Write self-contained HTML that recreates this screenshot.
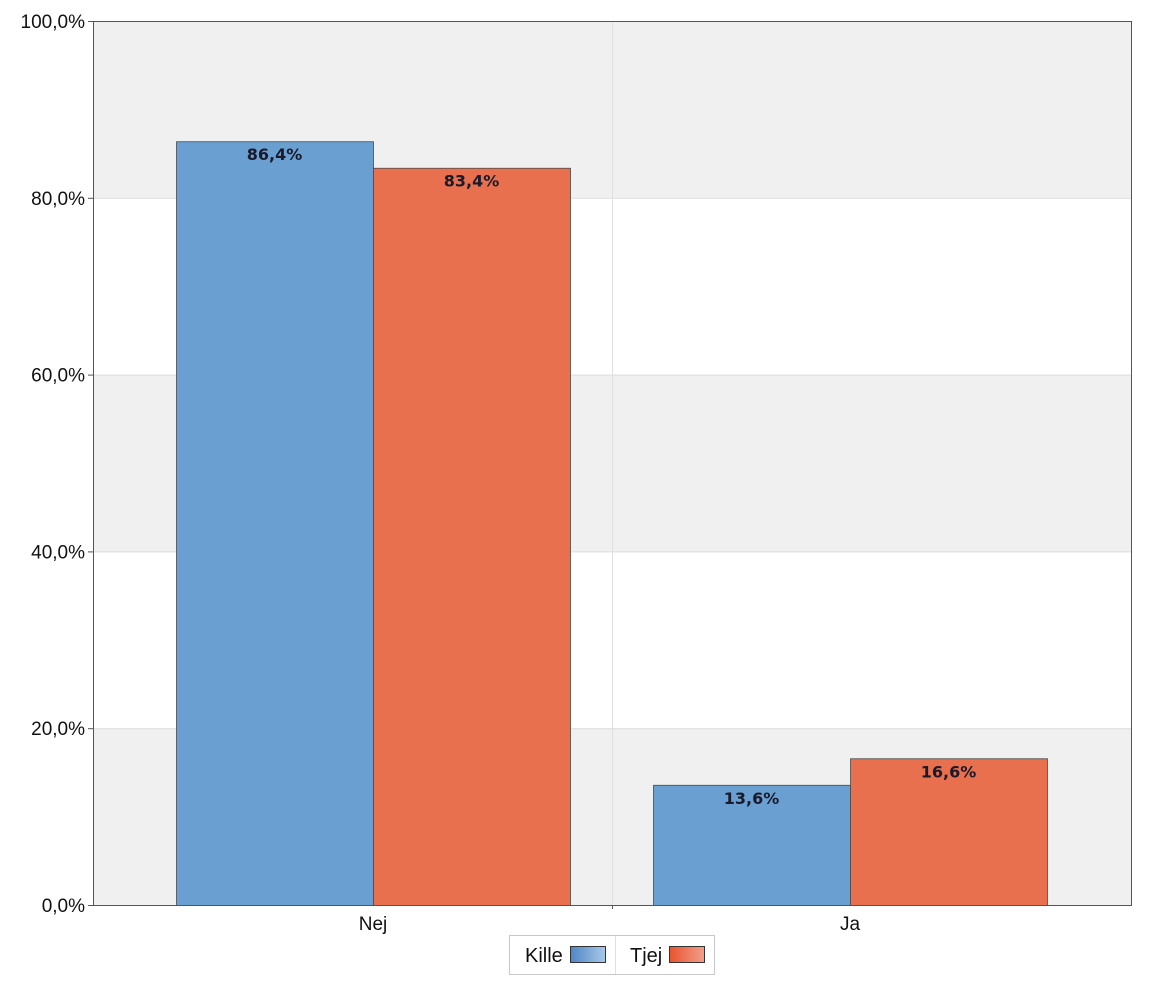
<!DOCTYPE html>
<html><head><meta charset="utf-8"><style>
body{margin:0;background:#fff;width:1152px;height:993px;overflow:hidden;font-family:"Liberation Sans",sans-serif}
</style></head><body>
<svg id="chart" width="1152" height="993" xmlns="http://www.w3.org/2000/svg">
<defs>
<linearGradient id="gb" x1="0" x2="1"><stop offset="0" stop-color="#4f86c6"/><stop offset="1" stop-color="#a9c8ea"/></linearGradient>
<linearGradient id="gr" x1="0" x2="1"><stop offset="0" stop-color="#e8532f"/><stop offset="1" stop-color="#f2a08a"/></linearGradient>
</defs>
<g id="bands"></g><g id="grid"></g><g id="bars"></g><g id="axes"></g>
<g>
<rect x="509.5" y="935.5" width="205" height="39" fill="#fff" stroke="#c8c8c8"/>
<line x1="615.5" y1="936" x2="615.5" y2="974" stroke="#e0e0e0"/>
<g>
<text x="525" y="962" font-size="20" fill="#111">Kille</text>
<rect x="570.5" y="946.5" width="35" height="16" fill="url(#gb)" stroke="#333"/></g>
<g>
<text x="630" y="962" font-size="20" fill="#111">Tjej</text>
<rect x="669.5" y="946.5" width="35" height="16" fill="url(#gr)" stroke="#333"/></g>
</g>
</svg>
<script>
const categories=["Nej","Ja"];
const kille=[86.4,13.6];
const tjej=[83.4,16.6];
const ticks=[0,20,40,60,80,100];
const tickLabels=["0,0%","20,0%","40,0%","60,0%","80,0%","100,0%"];
const NS="http://www.w3.org/2000/svg";
const L=93,R=1132,T=21,B=905;
const y=v=>B-(v/100)*(B-T);
const catCenter=[373,850];
const bw=197;
function mk(tag,attrs,parent,txt){const e=document.createElementNS(NS,tag);for(const k in attrs)e.setAttribute(k,attrs[k]);if(txt!==undefined)e.textContent=txt;document.getElementById(parent).appendChild(e);return e;}
for(let i=0;i<ticks.length-1;i++){
 const r=mk('rect',{x:L,y:y(ticks[i+1]),width:R-L,height:y(ticks[i])-y(ticks[i+1]),fill:i%2===0?'#f0f0f0':'#ffffff'},'bands');
 
 
}
ticks.forEach((t,i)=>{
 const g=mk('line',{x1:L,x2:R,y1:y(t)+0.5,y2:y(t)+0.5,stroke:'#dcdcdc'},'grid');
 
 
 mk('line',{x1:L-5,x2:L,y1:y(t)+0.5,y2:y(t)+0.5,stroke:'#555'},'axes');
 const tx=mk('text',{x:L-8,y:y(t)+7,'font-size':19,'text-anchor':'end',fill:'#111'},'axes',tickLabels[i]);
 
 
});
mk('line',{x1:612.5,x2:612.5,y1:T,y2:B,stroke:'#e0e0e0'},'grid');
const series=[{v:kille,fill:'#6a9fd2',name:'kille'},{v:tjej,fill:'#e8704f',name:'tjej'}];
categories.forEach((c,ci)=>{
 series.forEach((s,si)=>{
  const x=catCenter[ci]-bw+si*bw;
  const b=mk('rect',{x:x+0.5,y:y(s.v[ci])+0.5,width:bw,height:B-y(s.v[ci]),fill:s.fill,stroke:'#4a4a4a','stroke-width':0.8},'bars');
  
  
  const t=mk('text',{x:x+bw/2,y:y(s.v[ci])+19,'font-size':16,'font-weight':'bold','text-anchor':'middle',fill:'#1a1a2a','font-family':'DejaVu Sans, sans-serif'},'bars',s.v[ci].toFixed(1).replace('.',',')+'%');
  
  
 });
 const cl=mk('text',{x:catCenter[ci],y:930,'font-size':19,'text-anchor':'middle',fill:'#111'},'axes',c);
 
 
});
mk('rect',{x:L+0.5,y:T+0.5,width:R-L-1,height:B-T,fill:'none',stroke:'#555'},'axes');
mk('line',{x1:612.5,x2:612.5,y1:B,y2:B+4,stroke:'#555'},'axes');
</script>
</body></html>
